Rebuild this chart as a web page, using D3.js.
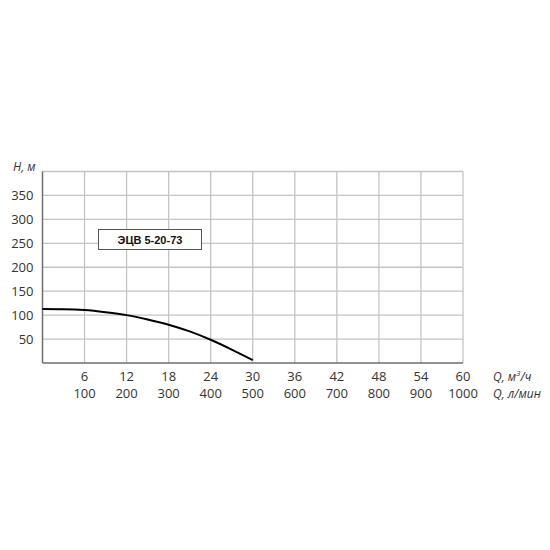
<!DOCTYPE html>
<html>
<head>
<meta charset="utf-8">
<script src="https://cdn.jsdelivr.net/npm/d3@7"></script>
<style>
  body { margin: 0; background: #fff; }
  text { font-family: "Open Sans", sans-serif; fill: #333; }
</style>
</head>
<body>
<div id="chart"></div>
<script>
// pump curve ЭЦВ 5-20-73
var flowM3h = [0, 3, 6, 9, 12, 15, 18, 21, 24, 27, 30];
var headM   = [113, 112.5, 110.5, 106, 100, 91, 80, 66, 48.5, 28, 6];

var xTicksM3h = [6, 12, 18, 24, 30, 36, 42, 48, 54, 60];
var xTicksLmin = [100, 200, 300, 400, 500, 600, 700, 800, 900, 1000];
var yTicks = [50, 100, 150, 200, 250, 300, 350];
var seriesName = "ЭЦВ 5-20-73";

var margin = { top: 171.5, left: 42.5, right: 87, bottom: 187 };
var width = 550, height = 550;
var plotW = width - margin.left - margin.right;
var plotH = height - margin.top - margin.bottom;

var svg = d3.select("#chart").append("svg")
  .attr("width", width)
  .attr("height", height);

var g = svg.append("g")
  .attr("transform", "translate(" + margin.left + "," + margin.top + ")");

var x = d3.scaleLinear().domain([0, 60]).range([0, plotW]);
var y = d3.scaleLinear().domain([0, 400]).range([plotH, 0]);

// grid
g.selectAll(".vgrid")
  .data(xTicksM3h)
  .enter().append("line")
    .attr("x1", function(d) { return x(d); })
    .attr("x2", function(d) { return x(d); })
    .attr("y1", 0).attr("y2", plotH)
    .attr("stroke", "#c4c4c4").attr("stroke-width", 1.3);

g.selectAll(".hgrid")
  .data(yTicks.concat([400]))
  .enter().append("line")
    .attr("x1", 0).attr("x2", plotW)
    .attr("y1", function(d) { return y(d); })
    .attr("y2", function(d) { return y(d); })
    .attr("stroke", "#c4c4c4").attr("stroke-width", 1.3);

// axes lines
g.append("line")
  .attr("x1", 0).attr("x2", 0).attr("y1", 0).attr("y2", plotH)
  .attr("stroke", "#6e6e6e").attr("stroke-width", 1.5);
g.append("line")
  .attr("x1", 0).attr("x2", plotW).attr("y1", plotH).attr("y2", plotH)
  .attr("stroke", "#6e6e6e").attr("stroke-width", 1.5);

// y labels
g.selectAll(".ylab")
  .data(yTicks)
  .enter().append("text")
    .attr("x", -9)
    .attr("y", function(d) { return y(d) + 4.5; })
    .attr("text-anchor", "end")
    .style("font-size", "13px")
    .text(function(d) { return d; });

svg.append("text")
  .attr("x", 13).attr("y", 171)
  .style("font-size", "12px").style("font-style", "italic")
  .text("H, м");

// x labels, two rows
g.selectAll(".xlab1")
  .data(xTicksM3h)
  .enter().append("text")
    .attr("x", function(d) { return x(d); })
    .attr("y", plotH + 18)
    .attr("text-anchor", "middle")
    .style("font-size", "13px")
    .text(function(d) { return d; });

g.selectAll(".xlab2")
  .data(xTicksLmin)
  .enter().append("text")
    .attr("x", function(d, i) { return x(xTicksM3h[i]); })
    .attr("y", plotH + 35)
    .attr("text-anchor", "middle")
    .style("font-size", "13px")
    .text(function(d) { return d; });

var q1 = g.append("text")
  .attr("x", plotW + 30).attr("y", plotH + 18)
  .style("font-size", "12px").style("font-style", "italic");
q1.append("tspan").text("Q, м");
q1.append("tspan").attr("dy", -5).style("font-size", "8px").text("3");
q1.append("tspan").attr("dy", 5).text("/ч");

g.append("text")
  .attr("x", plotW + 30).attr("y", plotH + 35)
  .style("font-size", "12px").style("font-style", "italic")
  .text("Q, л/мин");

// curve
var line = d3.line()
  .x(function(d, i) { return x(flowM3h[i]); })
  .y(function(d) { return y(d); })
  .curve(d3.curveMonotoneX);

g.append("path")
  .datum(headM)
  .attr("d", line)
  .attr("fill", "none")
  .attr("stroke", "#000")
  .attr("stroke-width", 2);

// legend box
svg.append("rect")
  .attr("x", 98.5).attr("y", 229.5)
  .attr("width", 103).attr("height", 20)
  .attr("fill", "#fff")
  .attr("stroke", "#555").attr("stroke-width", 1);

svg.append("text")
  .attr("x", 150).attr("y", 243.5)
  .attr("text-anchor", "middle")
  .style("font-family", "'Liberation Sans', Arial, sans-serif")
  .style("font-weight", "bold")
  .style("font-size", "11px")
  .style("fill", "#111")
  .text(seriesName);
</script>
</body>
</html>
